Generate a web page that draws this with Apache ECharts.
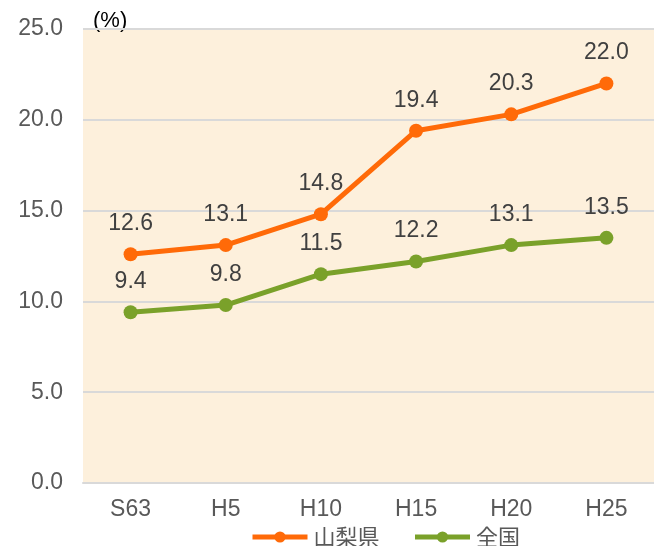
<!DOCTYPE html>
<html>
<head>
<meta charset="utf-8">
<script src="https://cdn.jsdelivr.net/npm/echarts@6/dist/echarts.min.js"></script>
<style>
  html, body { margin: 0; padding: 0; background: #fff; }
  #chart { width: 654px; height: 546px; }
</style>
</head>
<body>
<div id="chart"></div>
<script>
// カテゴリ（年次）
const years = ["S63", "H5", "H10", "H15", "H20", "H25"];
// 山梨県
const yamanashi = [12.6, 13.1, 14.8, 19.4, 20.3, 22.0];
// 全国
const zenkoku = [9.4, 9.8, 11.5, 12.2, 13.1, 13.5];

const chart = echarts.init(document.getElementById("chart"));

function lineSeries(name, data, color) {
  return {
    name: name,
    type: "line",
    data: data,
    symbol: "circle",
    symbolSize: 14,
    lineStyle: { width: 5, color: color },
    itemStyle: { color: color },
    label: {
      show: true,
      position: "top",
      distance: 12,
      fontSize: 23,
      color: "#404040",
      fontFamily: "Liberation Sans",
      formatter: (p) => p.value.toFixed(1),
    },
  };
}

chart.setOption({
  backgroundColor: "#fff",
  animation: false,
  grid: {
    left: 83,
    right: 0,
    top: 29,
    bottom: 63,
    show: true,
    backgroundColor: "#FDF0DC",
    borderWidth: 0,
  },
  graphic: [
    {
      type: "text",
      left: 93,
      top: 10,
      style: {
        text: "(%)",
        fontSize: 22,
        fill: "#000",
        fontFamily: "Liberation Sans",
      },
    },
  ],
  legend: {
    top: 526,
    left: 250,
    padding: 0,
    itemWidth: 55,
    itemHeight: 14,
    itemGap: 33,
    lineStyle: { width: 5 },
    textStyle: {
      fontSize: 22,
      lineHeight: 22,
      color: "#595959",
      fontFamily: "Noto Sans CJK JP",
      padding: [0, 0, 0, 1],
    },
    data: ["山梨県", "全国"],
  },
  xAxis: {
    type: "category",
    data: years,
    axisLine: { lineStyle: { color: "#D9D9D9", width: 2 } },
    axisTick: { show: false },
    axisLabel: {
      fontSize: 23,
      color: "#595959",
      margin: 15,
      fontFamily: "Liberation Sans",
    },
  },
  yAxis: {
    type: "value",
    min: 0,
    max: 25,
    interval: 5,
    axisLine: { show: false },
    axisTick: { show: false },
    splitLine: { lineStyle: { color: "#D9D9D9", width: 2 } },
    axisLabel: {
      fontSize: 23,
      color: "#595959",
      margin: 20,
      fontFamily: "Liberation Sans",
      formatter: (v) => v.toFixed(1),
    },
  },
  series: [
    lineSeries("山梨県", yamanashi, "#FF6A08"),
    lineSeries("全国", zenkoku, "#7AA12A"),
  ],
});
</script>
</body>
</html>
